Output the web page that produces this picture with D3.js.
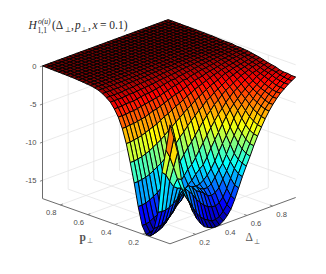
<!DOCTYPE html>
<html>
<head>
<meta charset="utf-8">
<script src="https://cdn.jsdelivr.net/npm/d3@7"></script>
<style>
body { margin: 0; background: #fff; }
svg { opacity: 0.99; }
</style>
</head>
<body>
<div id="chart"></div>
<script>
let deltaTicks = [0.2, 0.4, 0.6, 0.8]
let pTicks = [0.2, 0.4, 0.6, 0.8]
let zTicks = [0, -5, -10, -15]
let zTickLabels = ['0', '-5', '-10', '-15']

let deltaVals = [0,.03,.059,.089,.119,.149,.178,.208,.238,.267,.297,.327,.356,.386,.416,.445,.475,.505,.535,.564,.594,.624,.653,.683,.713,.742,.772,.802,.832,.861,.891,.921,.95,.98]
let pVals = [0,.029,.058,.087,.116,.145,.174,.203,.232,.261,.29,.319,.348,.377,.406,.435,.464,.493,.522,.551,.58,.609,.638,.667,.696,.725,.754,.783,.812,.841,.87,.9,.93]

// one row per p value, one column per delta value
let zGrid = [
[-1.8,-3.7,-5.8,-9.5,-11.3,-12.9,-14.3,-15.4,-16.2,-16.8,-17.1,-17.3,-17.4,-17.3,-17,-16.5,-15.8,-14.7,-13.4,-12.1,-10.9,-9.8,-8.6,-7.5,-6.5,-5.6,-4.8,-4.1,-3.5,-3,-2.6,-2.2,-1.9,-1.6],
[-5.3,-6.4,-7.9,-9.6,-11,-12.2,-13.1,-14.1,-15.05,-15.7,-16.2,-16.5,-16.8,-16.8,-16.6,-16.1,-15.4,-14.4,-13.2,-11.9,-10.7,-9.6,-8.5,-7.4,-6.4,-5.5,-4.7,-4.1,-3.5,-3,-2.6,-2.2,-1.9,-1.6],
[-8.4,-8.9,-9.9,-10.8,-11.2,-11.2,-11.6,-12.2,-12.8,-13.6,-14.2,-14.75,-15.1,-15.3,-15.4,-15.15,-14.6,-13.65,-12.5,-11.4,-10.4,-9.2,-8.1,-7.1,-6.1,-5.2,-4.5,-3.9,-3.3,-2.9,-2.5,-2.1,-1.8,-1.5],
[-13.8,-13.9,-13.9,-13.7,-13.4,-13,-12.3,-12.05,-11.8,-12.2,-12.85,-13.15,-13.5,-14.05,-14.2,-14,-13.55,-12.6,-11.7,-10.7,-9.8,-8.6,-7.5,-6.6,-5.7,-4.9,-4.2,-3.6,-3.1,-2.7,-2.3,-2,-1.7,-1.5],
[-16.1,-16.1,-16,-15.7,-15.3,-14.7,-13.9,-13.2,-13,-12.75,-12.5,-12.6,-13.1,-13.35,-13.35,-13.05,-12.35,-11.6,-10.9,-9.9,-8.8,-7.8,-6.9,-5.9,-5.1,-4.4,-3.9,-3.3,-2.9,-2.5,-2.1,-1.8,-1.5,-1.4],
[-17.3,-17.2,-17.05,-16.8,-16.4,-15.8,-15.3,-14.6,-14.2,-13.65,-13.5,-13.3,-13,-12.9,-12.55,-12.1,-11.45,-10.6,-9.6,-8.7,-7.8,-6.9,-5.9,-5.1,-4.5,-3.9,-3.4,-3,-2.6,-2.2,-1.9,-1.6,-1.4,-1.2],
[-17.3,-17.2,-17.05,-16.85,-16.45,-16.05,-15.45,-15,-14.45,-13.8,-13.4,-12.8,-12.4,-11.8,-11.3,-10.9,-10.1,-9.1,-8.2,-7.4,-6.5,-5.7,-5,-4.4,-3.9,-3.4,-3,-2.6,-2.3,-1.9,-1.7,-1.5,-1.3,-1.1],
[-16.3,-16.3,-16.15,-15.85,-15.65,-15.2,-14.75,-14.15,-13.65,-13.05,-12.45,-11.8,-11.15,-10.7,-10,-9.2,-8.4,-7.6,-6.8,-6.1,-5.4,-4.8,-4.2,-3.7,-3.2,-2.9,-2.5,-2.2,-1.9,-1.6,-1.5,-1.3,-1.1,-1],
[-14,-14,-13.9,-13.7,-13.4,-13.1,-12.7,-12.2,-11.7,-11.1,-10.6,-10.1,-9.4,-8.7,-8.1,-7.4,-6.7,-6,-5.4,-4.9,-4.3,-3.9,-3.4,-3,-2.7,-2.4,-2.1,-1.8,-1.6,-1.4,-1.2,-1.1,-1,-.85],
[-11.1,-11.1,-11,-10.9,-10.7,-10.4,-10.1,-9.8,-9.4,-8.9,-8.4,-7.9,-7.3,-6.8,-6.2,-5.7,-5.2,-4.7,-4.3,-3.8,-3.5,-3.1,-2.8,-2.5,-2.2,-1.9,-1.7,-1.5,-1.3,-1.2,-1.05,-.95,-.8,-.7],
[-8.6,-8.6,-8.5,-8.4,-8.2,-8,-7.7,-7.4,-7.1,-6.7,-6.3,-5.9,-5.5,-5.1,-4.7,-4.3,-4,-3.6,-3.3,-3,-2.7,-2.4,-2.2,-2,-1.7,-1.5,-1.4,-1.2,-1.1,-1,-.9,-.8,-.7,-.6],
[-6.3,-6.3,-6.2,-6.1,-6,-5.8,-5.6,-5.4,-5.2,-4.9,-4.6,-4.4,-4.1,-3.8,-3.6,-3.3,-3,-2.8,-2.5,-2.3,-2.1,-1.9,-1.7,-1.5,-1.4,-1.2,-1.1,-1,-.9,-.8,-.7,-.6,-.6,-.5],
[-4.5,-4.5,-4.4,-4.4,-4.3,-4.2,-4.1,-3.9,-3.7,-3.6,-3.4,-3.2,-3,-2.8,-2.6,-2.5,-2.3,-2.1,-1.9,-1.7,-1.6,-1.5,-1.3,-1.2,-1.1,-1,-.9,-.8,-.7,-.6,-.6,-.5,-.5,-.4],
[-3.2,-3.2,-3.2,-3.1,-3.1,-3,-2.9,-2.8,-2.7,-2.6,-2.5,-2.4,-2.2,-2.1,-1.9,-1.8,-1.7,-1.5,-1.5,-1.3,-1.2,-1.1,-1,-.95,-.85,-.8,-.7,-.6,-.6,-.5,-.5,-.4,-.4,-.35],
[-2.3,-2.3,-2.3,-2.2,-2.2,-2.2,-2.1,-2,-1.9,-1.9,-1.8,-1.7,-1.6,-1.5,-1.4,-1.3,-1.3,-1.15,-1.1,-1,-.95,-.85,-.8,-.7,-.65,-.6,-.55,-.5,-.45,-.4,-.4,-.35,-.35,-.3],
[-1.6,-1.6,-1.6,-1.6,-1.55,-1.5,-1.5,-1.45,-1.4,-1.35,-1.3,-1.25,-1.2,-1.1,-1.05,-1,-.95,-.9,-.8,-.75,-.7,-.65,-.6,-.55,-.5,-.5,-.45,-.4,-.4,-.35,-.35,-.3,-.3,-.3],
[-1.2,-1.2,-1.2,-1.2,-1.2,-1.1,-1.1,-1.1,-1,-1,-.95,-.9,-.9,-.85,-.8,-.75,-.7,-.65,-.6,-.6,-.55,-.5,-.5,-.45,-.4,-.4,-.35,-.35,-.3,-.3,-.3,-.3,-.25,-.2],
[-.85,-.85,-.85,-.85,-.85,-.85,-.8,-.75,-.75,-.7,-.7,-.7,-.65,-.6,-.6,-.55,-.5,-.5,-.5,-.45,-.4,-.4,-.4,-.35,-.35,-.3,-.3,-.3,-.3,-.25,-.25,-.2,-.2,-.2],
[-.6,-.6,-.6,-.6,-.6,-.6,-.6,-.58,-.57,-.56,-.55,-.54,-.52,-.5,-.49,-.47,-.45,-.43,-.41,-.39,-.38,-.36,-.35,-.33,-.32,-.3,-.29,-.28,-.26,-.25,-.24,-.22,-.21,-.2],
[-.45,-.45,-.45,-.45,-.44,-.44,-.43,-.43,-.42,-.41,-.4,-.39,-.38,-.37,-.36,-.35,-.34,-.33,-.32,-.31,-.3,-.29,-.28,-.27,-.26,-.25,-.24,-.23,-.22,-.21,-.2,-.19,-.18,-.17],
[-.35,-.35,-.35,-.35,-.35,-.34,-.34,-.33,-.33,-.32,-.32,-.31,-.3,-.3,-.29,-.28,-.27,-.26,-.25,-.25,-.24,-.23,-.22,-.21,-.2,-.2,-.19,-.18,-.17,-.16,-.15,-.14,-.14,-.13],
[-.3,-.3,-.3,-.29,-.29,-.29,-.28,-.28,-.27,-.27,-.26,-.26,-.25,-.25,-.24,-.23,-.22,-.22,-.21,-.2,-.2,-.19,-.18,-.17,-.16,-.16,-.15,-.14,-.14,-.13,-.12,-.12,-.11,-.1],
[-.24,-.24,-.24,-.24,-.23,-.23,-.23,-.22,-.22,-.22,-.21,-.21,-.2,-.2,-.19,-.19,-.18,-.18,-.17,-.16,-.16,-.15,-.15,-.14,-.13,-.13,-.12,-.12,-.11,-.11,-.1,-.1,-.09,-.09],
[-.2,-.2,-.2,-.19,-.19,-.19,-.19,-.18,-.18,-.18,-.17,-.17,-.17,-.16,-.16,-.15,-.15,-.14,-.14,-.13,-.13,-.13,-.12,-.12,-.11,-.11,-.1,-.1,-.09,-.09,-.08,-.08,-.08,-.07],
[-.16,-.16,-.16,-.16,-.16,-.15,-.15,-.15,-.15,-.14,-.14,-.14,-.13,-.13,-.13,-.12,-.12,-.12,-.11,-.11,-.11,-.1,-.1,-.1,-.09,-.09,-.08,-.08,-.08,-.07,-.07,-.07,-.06,-.06],
[-.13,-.13,-.13,-.13,-.13,-.13,-.12,-.12,-.12,-.12,-.12,-.11,-.11,-.11,-.1,-.1,-.1,-.1,-.09,-.09,-.09,-.08,-.08,-.08,-.07,-.07,-.07,-.07,-.06,-.06,-.06,-.05,-.05,-.05],
[-.11,-.11,-.11,-.11,-.11,-.1,-.1,-.1,-.1,-.1,-.1,-.09,-.09,-.09,-.09,-.08,-.08,-.08,-.08,-.07,-.07,-.07,-.07,-.06,-.06,-.06,-.06,-.05,-.05,-.05,-.05,-.04,-.04,-.04],
[-.09,-.09,-.09,-.09,-.09,-.08,-.08,-.08,-.08,-.08,-.08,-.07,-.07,-.07,-.07,-.07,-.06,-.06,-.06,-.06,-.06,-.05,-.05,-.05,-.05,-.05,-.04,-.04,-.04,-.04,-.04,-.03,-.03,-.03],
[-.07,-.07,-.07,-.07,-.07,-.07,-.07,-.06,-.06,-.06,-.06,-.06,-.06,-.05,-.05,-.05,-.05,-.05,-.05,-.04,-.04,-.04,-.04,-.04,-.04,-.03,-.03,-.03,-.03,-.03,-.03,-.03,-.03,-.03],
[-.06,-.06,-.06,-.06,-.06,-.05,-.05,-.05,-.05,-.05,-.05,-.05,-.04,-.04,-.04,-.04,-.04,-.04,-.03,-.03,-.03,-.03,-.03,-.03,-.03,-.02,-.02,-.02,-.02,-.02,-.02,-.02,-.02,-.02],
[-.04,-.04,-.04,-.04,-.04,-.04,-.04,-.03,-.03,-.03,-.03,-.03,-.03,-.03,-.03,-.03,-.02,-.02,-.02,-.02,-.02,-.02,-.02,-.02,-.02,-.02,-.01,-.01,-.01,-.01,-.01,-.01,-.01,-.01],
[-.02,-.02,-.02,-.02,-.02,-.02,-.02,-.02,-.02,-.02,-.02,-.02,-.01,-.01,-.01,-.01,-.01,-.01,-.01,-.01,-.01,-.01,-.01,-.01,-.01,-.01,-.01,-.01,-.01,-.01,-.01,-.01,-.01,-.01],
[0,0,0,0,0,0,0,0,0,0,0,0,0,0,0,0,0,0,0,0,0,0,0,0,0,0,0,0,0,0,0,0,0,0]
]

let jetColors = ['#000090', '#0000ff', '#00ffff', '#ffff00', '#ff0000', '#700000']
let jetStops = [0, 0.125, 0.375, 0.625, 0.875, 1]

let width = 326
let height = 274
let gridColor = '#e4e4e4'
let axisColor = '#6b6b6b'
let labelColor = '#4a4a4a'

let svg = d3
	.select('#chart')
	.append('svg')
	.attr('width', width)
	.attr('height', height)

let zMin = -17.4
let zMax = 0
let deltaMax = 0.98
let pMax = 0.93

// front corner of the box on the floor
let originX = 170
let originY = 243.8

let deltaX = d3.scaleLinear().domain([0, deltaMax]).range([0, 125.7])
let deltaY = d3.scaleLinear().domain([0, deltaMax]).range([0, -46.3])
let pX = d3.scaleLinear().domain([0, pMax]).range([0, -127.5])
let pY = d3.scaleLinear().domain([0, pMax]).range([0, -45.2])
let zY = d3.scaleLinear().domain([zMin, zMax]).range([0, -132.7])

let project = (d, p, z) => [
	originX + deltaX(d) + pX(p),
	originY + deltaY(d) + pY(p) + zY(z)
]

let jetPos = d3.scaleLinear().domain([zMin, zMax]).range([0, 1])
let jetScale = d3.scaleLinear().domain(jetStops).range(jetColors)

let line3d = (a, b, color, w) => {
	let s = project(a[0], a[1], a[2])
	let e = project(b[0], b[1], b[2])
	svg
		.append('line')
		.attr('x1', s[0])
		.attr('y1', s[1])
		.attr('x2', e[0])
		.attr('y2', e[1])
		.attr('stroke', color)
		.attr('stroke-width', w)
}

// grid on the walls and the floor
deltaTicks.forEach(d => {
	line3d([d, pMax, zMin], [d, pMax, zMax], gridColor, 0.8)
	line3d([d, 0, zMin], [d, pMax, zMin], gridColor, 0.8)
})
pTicks.forEach(p => {
	line3d([deltaMax, p, zMin], [deltaMax, p, zMax], gridColor, 0.8)
	line3d([0, p, zMin], [deltaMax, p, zMin], gridColor, 0.8)
})
zTicks.forEach(z => {
	line3d([0, pMax, z], [deltaMax, pMax, z], gridColor, 0.8)
	line3d([deltaMax, 0, z], [deltaMax, pMax, z], gridColor, 0.8)
})

// axis lines
line3d([0, pMax, zMin], [0, pMax, zMax], axisColor, 1)
line3d([0, 0, zMin], [0, pMax, zMin], axisColor, 1)
line3d([0, 0, zMin], [deltaMax, 0, zMin], axisColor, 1)

let sans = '"Liberation Sans", sans-serif'

// ticks
deltaTicks.forEach((d, i) => {
	line3d([d, 0, zMin], [d, 0.02, zMin], axisColor, 0.8)
	let pos = project(d, 0, zMin)
	svg
		.append('text')
		.attr('x', pos[0] + 9)
		.attr('y', pos[1] + 10.5)
		.attr('text-anchor', 'middle')
		.attr('font-size', 7.6)
		.attr('font-family', sans)
		.attr('fill', labelColor)
		.text(deltaTicks[i].toFixed(1))
})
pTicks.forEach((p, i) => {
	line3d([0, p, zMin], [0.02, p, zMin], axisColor, 0.8)
	let pos = project(0, p, zMin)
	svg
		.append('text')
		.attr('x', pos[0] - 9)
		.attr('y', pos[1] + 10.5)
		.attr('text-anchor', 'middle')
		.attr('font-size', 7.6)
		.attr('font-family', sans)
		.attr('fill', labelColor)
		.text(pTicks[i].toFixed(1))
})
zTicks.forEach((z, i) => {
	line3d([0, pMax, z], [-0.02, pMax, z], axisColor, 0.8)
	let pos = project(0, pMax, z)
	svg
		.append('text')
		.attr('x', pos[0] - 6)
		.attr('y', pos[1] + 2.7)
		.attr('text-anchor', 'end')
		.attr('font-size', 7.6)
		.attr('font-family', sans)
		.attr('fill', labelColor)
		.text(zTickLabels[i])
})

if (zGrid.length !== pVals.length || zGrid.some(r => r.length !== deltaVals.length)) {
	console.error('zGrid does not fit deltaVals and pVals')
}

// surface cells, far ones first so the near ones paint over them
let cells = []
for (let j = 0; j < pVals.length - 1; j++) {
	for (let i = 0; i < deltaVals.length - 1; i++) {
		cells.push({ i, j, depth: i / deltaVals.length + j / pVals.length })
	}
}
cells.sort((a, b) => b.depth - a.depth)

svg
	.append('g')
	.selectAll('path')
	.data(cells)
	.join('path')
	.attr('d', c => {
		let corners = [[c.i, c.j], [c.i + 1, c.j], [c.i + 1, c.j + 1], [c.i, c.j + 1]]
		return 'M' + corners.map(k => project(deltaVals[k[0]], pVals[k[1]], zGrid[k[1]][k[0]]).join(',')).join('L') + 'Z'
	})
	.attr('fill', c => {
		let m = (zGrid[c.j][c.i] + zGrid[c.j][c.i + 1] + zGrid[c.j + 1][c.i] + zGrid[c.j + 1][c.i + 1]) / 4
		return jetScale(jetPos(m))
	})
	.attr('stroke', '#000')
	.attr('stroke-width', 1)
	.attr('stroke-linejoin', 'round')

// title and axis labels
let serif = '"Liberation Serif", serif'
let addText = (x, y, size, txt, style, color, weight) => {
	svg
		.append('text')
		.attr('x', x)
		.attr('y', y)
		.attr('font-size', size)
		.attr('font-family', serif)
		.attr('font-style', style)
		.attr('font-weight', weight || 'normal')
		.attr('fill', color)
		.text(txt)
}
let titleColor = '#262626'
addText(28.5, 29, 11.5, 'H', 'italic', titleColor)
addText(38, 24, 7.6, 'o(u)', 'italic', titleColor)
addText(37.5, 33, 7.6, '1,1', 'normal', titleColor)
addText(52, 29, 11.5, '(Δ', 'normal', titleColor)
addText(64.5, 31.5, 7, '⊥', 'normal', titleColor)
addText(71, 29, 11.5, ',', 'normal', titleColor)
addText(75, 29, 11.5, 'p', 'italic', titleColor)
addText(81, 31.5, 7, '⊥', 'normal', titleColor)
addText(88, 29, 11.5, ',', 'normal', titleColor)
addText(92.5, 29, 11.5, 'x', 'italic', titleColor)
addText(100, 29, 11.5, '= 0.1)', 'normal', titleColor)

addText(79.5, 241, 11.5, 'p', 'normal', '#555', 'bold')
addText(86.5, 243, 7, '⊥', 'normal', '#555')
addText(245.5, 241, 11.5, 'Δ', 'normal', '#555')
addText(254, 243.5, 7, '⊥', 'normal', '#555')
</script>
</body>
</html>
